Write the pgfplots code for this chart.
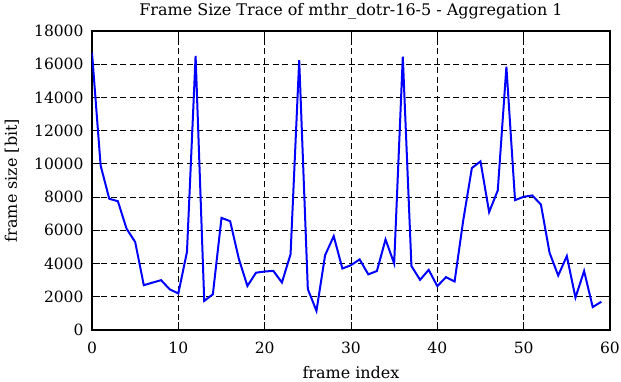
\documentclass[border=0pt]{standalone}
\usepackage{pgfplots}
\pgfplotsset{compat=1.18}
\usepackage{fontspec}
\setmainfont{DejaVu Serif}
\begin{document}
\begin{tikzpicture}[x=1pt,y=1pt]
\path[use as bounding box] (-92,-52) rectangle (529,330);
\begin{axis}[
  at={(0,0)}, anchor=south west,
  scale only axis,
  width=518pt, height=299pt,
  xmin=0, xmax=60, ymin=0, ymax=18000,
  xtick={0,10,20,30,40,50,60},
  xticklabels={0,10,20,30,40,50,60},
  ytick={0,2000,4000,6000,8000,10000,12000,14000,16000,18000},
  yticklabels={0,2000,4000,6000,8000,10000,12000,14000,16000,18000},
  scaled y ticks=false,
  tick label style={font=\fontsize{15.5}{19}\selectfont},
  yticklabel style={xshift=-5pt},
  xticklabel style={yshift=-8pt},
  label style={font=\fontsize{16}{19}\selectfont},
  title style={font=\fontsize{16}{19}\selectfont, at={(axis description cs:0.5,1.0615)}, anchor=base, yshift=-9pt, inner sep=0pt},
  title={Frame Size Trace of mthr\_dotr-16-5 - Aggregation 1},
  xlabel={frame index},
  ylabel={frame size [bit]},
  xlabel style={at={(axis description cs:0.5,-0.162)}, anchor=base, inner sep=0pt},
  ylabel style={at={(axis description cs:-0.145,0.5)}, anchor=base, inner sep=0pt},
  grid=major,
  major grid style={black, line width=0.9pt, dash pattern=on 6pt off 3.5pt},
  axis line style={black, line width=2pt},
  tick style={black, line width=0.9pt},
  tick align=inside,
  major tick length=8pt,
]
\addplot[blue, line width=2pt] coordinates {
(0,16700) (1,9900) (2,7900) (3,7750) (4,6100) (5,5300) (6,2700) (7,2850) (8,3000) (9,2450)
(10,2200) (11,4700) (12,16500) (13,1750) (14,2150) (15,6750) (16,6550) (17,4300) (18,2650) (19,3450)
(20,3520) (21,3560) (22,2860) (23,4560) (24,16250) (25,2460) (26,1150) (27,4500) (28,5650) (29,3700)
(30,3900) (31,4250) (32,3350) (33,3550) (34,5450) (35,4000) (36,16450) (37,3850) (38,3020) (39,3620)
(40,2640) (41,3180) (42,2920) (43,6600) (44,9750) (45,10150) (46,7100) (47,8400) (48,15850) (49,7820)
(50,8020) (51,8100) (52,7550) (53,4650) (54,3280) (55,4450) (56,1950) (57,3550) (58,1380) (59,1700)
};
\end{axis}
\end{tikzpicture}
\end{document}
